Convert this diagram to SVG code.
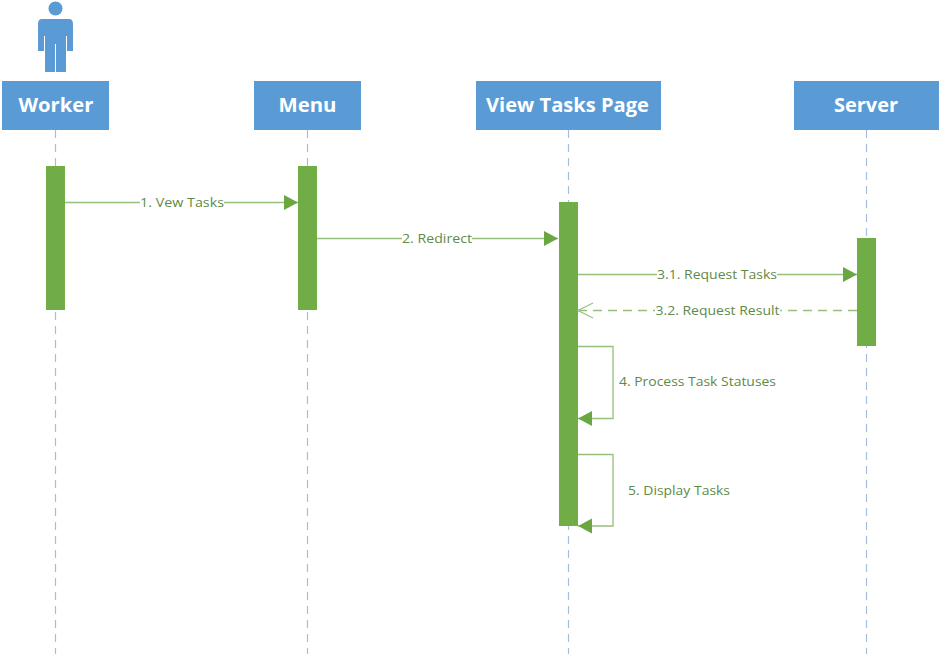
<svg xmlns="http://www.w3.org/2000/svg" width="941" height="656" viewBox="0 0 941 656">
<style>
.box{fill:#5b9bd5}
.bar{fill:#70ad47}
.life{stroke:#a3bfdc;stroke-width:1.2;stroke-dasharray:8 6;fill:none}
.msg{stroke:#96c07c;stroke-width:1.3;fill:none}
.ret{stroke-dasharray:9 6}
.title{font-family:"Open Sans","Liberation Sans",sans-serif;font-weight:700;font-size:20px;fill:#fff;text-anchor:middle}
.lbl{font-family:"Open Sans","Liberation Sans",sans-serif;font-size:12.5px;fill:#5f8a47;text-anchor:middle}
.bg{fill:#fff}
</style>
<defs>
<marker id="fill" markerUnits="userSpaceOnUse" markerWidth="16" markerHeight="17" refX="15" refY="8.5" orient="auto"><path d="M1 1L15 8.5L1 16Z" fill="#6aa741"/></marker>
<marker id="open" markerUnits="userSpaceOnUse" markerWidth="18" markerHeight="18" refX="16" refY="9" orient="auto"><path d="M1 1.5L16 9L1 16.5" fill="none" stroke="#96c07c" stroke-width="1.2"/></marker>
</defs>
<rect width="941" height="656" fill="#fff"/>
<g id="lifelines">
<line class="life" x1="55.5" y1="130" x2="55.5" y2="654"/>
<line class="life" x1="307.5" y1="130" x2="307.5" y2="654"/>
<line class="life" x1="568.5" y1="130" x2="568.5" y2="654"/>
<line class="life" x1="866.5" y1="130" x2="866.5" y2="654"/>
</g>
<g id="actor-icon" fill="#5b9bd5">
<circle cx="55.5" cy="8.5" r="7"/>
<path d="M42 19H69Q73 19 73 24V51H67V36H66V72H56V44H55V72H45V36H44V51H38V24Q38 19 42 19Z"/>
</g>
<g id="worker"><rect class="box" x="2" y="81" width="107" height="49"/><text class="title" x="56" y="112" textLength="75" lengthAdjust="spacingAndGlyphs">Worker</text><rect class="bar" x="46" y="166" width="19" height="144"/></g>
<g id="menu"><rect class="box" x="254" y="81" width="107" height="49"/><text class="title" x="307.5" y="112" textLength="58" lengthAdjust="spacingAndGlyphs">Menu</text><rect class="bar" x="298" y="166" width="19" height="144"/></g>
<g id="view-tasks-page"><rect class="box" x="476" y="81" width="185" height="49"/><text class="title" x="567.5" y="112" textLength="163" lengthAdjust="spacingAndGlyphs">View Tasks Page</text><rect class="bar" x="559" y="202" width="19" height="324"/></g>
<g id="server"><rect class="box" x="794" y="81" width="145" height="49"/><text class="title" x="866" y="112" textLength="64" lengthAdjust="spacingAndGlyphs">Server</text><rect class="bar" x="857" y="238" width="19" height="108"/></g>
<g id="connectors">
<path class="msg" d="M65 202.500H298" marker-end="url(#fill)"/>
<path class="msg" d="M317 238.500H558" marker-end="url(#fill)"/>
<path class="msg" d="M578 274.500H857" marker-end="url(#fill)"/>
<path class="msg ret" d="M857 310.500H578" marker-end="url(#open)"/>
<path class="msg" d="M578 346.500H613V418.500H578" marker-end="url(#fill)"/>
<path class="msg" d="M578 454.500H613V526H578" marker-end="url(#fill)"/>
</g>
<g id="labels">
<rect class="bg" x="140" y="194" width="84" height="16"/><text class="lbl" x="182" y="207" textLength="84" lengthAdjust="spacingAndGlyphs">1. Vew Tasks</text>
<rect class="bg" x="402" y="230" width="70" height="16"/><text class="lbl" x="437" y="243" textLength="70" lengthAdjust="spacingAndGlyphs">2. Redirect</text>
<rect class="bg" x="657" y="266" width="120" height="16"/><text class="lbl" x="717" y="279" textLength="120" lengthAdjust="spacingAndGlyphs">3.1. Request Tasks</text>
<rect class="bg" x="655" y="302" width="125" height="16"/><text class="lbl" x="717.500" y="315" textLength="124" lengthAdjust="spacingAndGlyphs">3.2. Request Result</text>
<text class="lbl" x="697.500" y="386" textLength="157" lengthAdjust="spacingAndGlyphs">4. Process Task Statuses</text>
<text class="lbl" x="679" y="495" textLength="102" lengthAdjust="spacingAndGlyphs">5. Display Tasks</text>
</g>
</svg>
